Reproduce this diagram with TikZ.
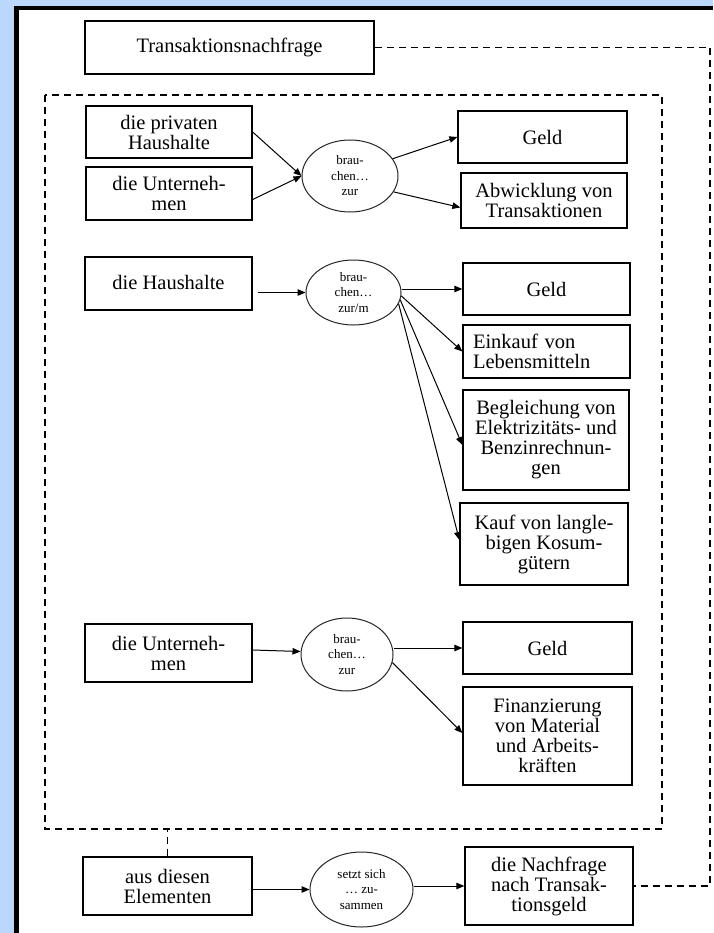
\documentclass[tikz,border=0pt]{standalone}
\usepackage{fontspec}
\setmainfont{Liberation Serif}
\usetikzlibrary{arrows.meta,shapes.geometric}
\definecolor{frameblue}{RGB}{187,216,252}
\begin{document}
\begin{tikzpicture}[x=1pt,y=-1pt,
  box/.style={draw,line width=1.3pt,rectangle,inner sep=0pt,align=center,font=\fontsize{20.5}{20}\selectfont},
  oval/.style={draw,line width=1pt,draw=black!85,ellipse,inner sep=0pt,align=center,font=\fontsize{13}{15.5}\selectfont},
  arr/.style={line width=1pt,-{Triangle[length=8pt,width=6.5pt]}},
  dline/.style={line width=1.2pt,dash pattern=on 7pt off 5pt}]
\useasboundingbox (0,0) rectangle (713,933);
\fill[white] (0,0) rectangle (713,933);
% frame
\fill[frameblue] (0,0) rectangle (713,6);
\fill[frameblue] (0,0) rectangle (14,933);
\fill[black] (14,6) rectangle (713,10);
\fill[black] (14,6) rectangle (19,933);

% top box
\node[box,minimum width=289pt,minimum height=53pt] (T) at (229.5,47.5) {Transaktionsnachfrage};

% inner dashed frame
\coordinate (iTL) at (45,95);
\coordinate (iBR) at (662,829);
\draw[dline] (iTL) rectangle (iBR);

% group 1
\node[box,minimum width=166pt,minimum height=52pt] (B1) at (169,132) {die privaten\\Haushalte};
\node[box,minimum width=166pt,minimum height=53pt] (B2) at (169,193.5) {die Unterneh-\\men};
\node[oval,minimum width=96pt,minimum height=72pt] (E1) at (350,176) {brau-\\chen…\\zur};
\node[box,minimum width=169pt,minimum height=52pt] (G1) at (542.5,137) {Geld};
\node[box,minimum width=166pt,minimum height=55pt] (A1) at (544,200.5) {Abwicklung von\\Transaktionen};
\draw[arr] (B1.east) -- (E1.west);
\draw[arr] ([yshift=-6pt]B2.east) -- (E1.west);
\draw[arr] (E1.22) -- (G1.west);
\draw[arr] (E1.-20) -- ([yshift=-7pt]A1.west);

% group 2
\node[box,minimum width=167pt,minimum height=53pt] (B3) at (168.5,283.5) {\raisebox{3pt}{die Haushalte}};
\node[oval,minimum width=95pt,minimum height=65pt] (E2) at (353.5,292.5) {brau-\\chen…\\zur/m};
\node[box,minimum width=167pt,minimum height=52pt] (G2) at (546.5,289) {Geld};
\node[box,minimum width=167pt,minimum height=53pt,text width=147pt,align=left] (K1) at (546.5,351.5) {Einkauf von\\Lebensmitteln};
\node[box,minimum width=166pt,minimum height=100pt] (Bg) at (546,440) {Begleichung von\\Elektrizitäts- und\\Benzinrechnun-\\gen};
\node[box,minimum width=168pt,minimum height=82pt] (Kf) at (544,544) {Kauf von langle-\\bigen Kosum-\\gütern};
\draw[arr] ([xshift=5pt]B3.east |- E2.west) -- (E2.west);
\draw[arr] (E2.east |- G2.west) -- (G2.west);
\draw[arr] (E2.-4) -- (K1.west);
\draw[arr] (E2.-9) -- ([yshift=-5pt]Bg.west);
\draw[arr] (E2.-14) -- ([yshift=4pt]Kf.west);

% group 3
\node[box,minimum width=167pt,minimum height=58pt] (B4) at (168.5,653) {die Unterneh-\\men};
\node[oval,minimum width=92pt,minimum height=73pt] (E3) at (347,654.5) {brau-\\chen…\\zur};
\node[box,minimum width=169pt,minimum height=52pt] (G3) at (547.5,648) {Geld};
\node[box,minimum width=169pt,minimum height=98pt] (F) at (547.5,736) {Finanzierung\\von Material\\und Arbeits-\\kräften};
\draw[arr] ([yshift=3pt]B4.east) -- ([yshift=3pt]E3.west);
\draw[arr] (E3.east |- G3.west) -- (G3.west);
\draw[arr] (E3.-10) -- ([yshift=3pt]F.west);

% bottom row
\node[box,minimum width=169pt,minimum height=58pt] (AE) at (167.5,886) {aus diesen\\Elementen};
\node[oval,minimum width=103pt,minimum height=75pt] (E4) at (361.5,889.5) {setzt sich\\… zu-\\sammen};
\node[box,minimum width=168pt,minimum height=78pt] (N) at (549,886) {die Nachfrage\\nach Transak-\\tionsgeld};
\draw[arr] (AE.east |- E4.west) -- (E4.west);
\draw[arr] (E4.east |- N.west) -- (N.west);

% dashed connectors
\draw[dline] (AE.north) -- (AE.north |- iBR);
\coordinate (c1) at (710,47.5);
\draw[dline] (T.east) -- (T.east -| c1) -- (c1 |- N.east) -- (N.east);
\end{tikzpicture}
\end{document}
